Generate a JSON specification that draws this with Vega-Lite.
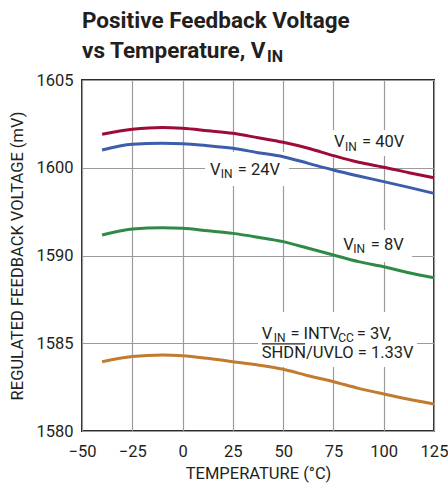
{
  "$schema": "https://vega.github.io/schema/vega-lite/v6.json",
  "width": 352,
  "height": 351,
  "autosize": {"type": "none"},
  "padding": {"left": 82, "top": 80, "right": 14, "bottom": 55},
  "background": "white",
  "config": {
    "view": {"stroke": "#2b2b2b", "strokeWidth": 2},
    "font": "Roboto"
  },
  "datasets": {
    "curves": [
      {"series": "40V", "x": -40, "y": 1596.91}, {"series": "40V", "x": -25, "y": 1597.19}, {"series": "40V", "x": -10, "y": 1597.30}, {"series": "40V", "x": 0, "y": 1597.25}, {"series": "40V", "x": 12.5, "y": 1597.11}, {"series": "40V", "x": 25, "y": 1596.96}, {"series": "40V", "x": 37.5, "y": 1596.71}, {"series": "40V", "x": 50, "y": 1596.45}, {"series": "40V", "x": 62.5, "y": 1596.11}, {"series": "40V", "x": 75, "y": 1595.69}, {"series": "40V", "x": 87.5, "y": 1595.31}, {"series": "40V", "x": 100, "y": 1595.03}, {"series": "40V", "x": 112.5, "y": 1594.72}, {"series": "40V", "x": 125, "y": 1594.43},
      {"series": "24V", "x": -40, "y": 1596.01}, {"series": "24V", "x": -25, "y": 1596.34}, {"series": "24V", "x": -10, "y": 1596.39}, {"series": "24V", "x": 0, "y": 1596.37}, {"series": "24V", "x": 12.5, "y": 1596.26}, {"series": "24V", "x": 25, "y": 1596.11}, {"series": "24V", "x": 37.5, "y": 1595.86}, {"series": "24V", "x": 50, "y": 1595.63}, {"series": "24V", "x": 62.5, "y": 1595.25}, {"series": "24V", "x": 75, "y": 1594.87}, {"series": "24V", "x": 87.5, "y": 1594.53}, {"series": "24V", "x": 100, "y": 1594.21}, {"series": "24V", "x": 112.5, "y": 1593.88}, {"series": "24V", "x": 125, "y": 1593.54},
      {"series": "8V", "x": -40, "y": 1591.17}, {"series": "8V", "x": -25, "y": 1591.51}, {"series": "8V", "x": -10, "y": 1591.58}, {"series": "8V", "x": 0, "y": 1591.55}, {"series": "8V", "x": 12.5, "y": 1591.41}, {"series": "8V", "x": 25, "y": 1591.26}, {"series": "8V", "x": 37.5, "y": 1591.04}, {"series": "8V", "x": 50, "y": 1590.79}, {"series": "8V", "x": 62.5, "y": 1590.41}, {"series": "8V", "x": 75, "y": 1590.03}, {"series": "8V", "x": 87.5, "y": 1589.65}, {"series": "8V", "x": 100, "y": 1589.36}, {"series": "8V", "x": 112.5, "y": 1589.02}, {"series": "8V", "x": 125, "y": 1588.73},
      {"series": "3V", "x": -40, "y": 1583.95}, {"series": "3V", "x": -25, "y": 1584.24}, {"series": "3V", "x": -10, "y": 1584.33}, {"series": "3V", "x": 0, "y": 1584.29}, {"series": "3V", "x": 12.5, "y": 1584.14}, {"series": "3V", "x": 25, "y": 1583.95}, {"series": "3V", "x": 37.5, "y": 1583.76}, {"series": "3V", "x": 50, "y": 1583.52}, {"series": "3V", "x": 62.5, "y": 1583.15}, {"series": "3V", "x": 75, "y": 1582.81}, {"series": "3V", "x": 87.5, "y": 1582.43}, {"series": "3V", "x": 100, "y": 1582.11}, {"series": "3V", "x": 112.5, "y": 1581.81}, {"series": "3V", "x": 125, "y": 1581.54}
    ],
    "boxes": [
      {"x": 72.3, "x2": 113.1, "y": 1597.15, "y2": 1595.67},
      {"x": 11.2, "x2": 52.9, "y": 1595.9, "y2": 1593.96},
      {"x": 76.8, "x2": 114.1, "y": 1591.45, "y2": 1589.63},
      {"x": 37.5, "x2": 116.6, "y": 1586.78, "y2": 1583.65}
    ],
    "bars": [
      {"x": 39.4, "x2": 60.9, "y": 1584.97}
    ],
    "labels": [
      {"part": "main", "text": "V", "x": 75.3, "y": 1596.2},
      {"part": "sub", "text": "IN", "x": 80.8, "y": 1595.98},
      {"part": "main", "text": "= 40V", "x": 89.2, "y": 1596.2},
      {"part": "main", "text": "V", "x": 13.65, "y": 1594.59},
      {"part": "sub", "text": "IN", "x": 18.97, "y": 1594.4},
      {"part": "main", "text": "= 24V", "x": 27.43, "y": 1594.59},
      {"part": "main", "text": "V", "x": 79.9, "y": 1590.31},
      {"part": "sub", "text": "IN", "x": 84.8, "y": 1590.13},
      {"part": "main", "text": "= 8V", "x": 93.6, "y": 1590.31},
      {"part": "main", "text": "V", "x": 39.36, "y": 1585.23},
      {"part": "sub", "text": "IN", "x": 45.3, "y": 1585.06},
      {"part": "main", "text": "= INTV", "x": 53.6, "y": 1585.23},
      {"part": "sub", "text": "CC", "x": 77.4, "y": 1585.06},
      {"part": "main", "text": "= 3V,", "x": 86.6, "y": 1585.23},
      {"part": "main", "text": "SHDN/UVLO = 1.33V", "x": 39.36, "y": 1584.14},
      {"part": "title", "text": "Positive Feedback Voltage", "x": -50, "y": 1602.99},
      {"part": "title", "text": "vs Temperature, V", "x": -50, "y": 1601.23},
      {"part": "titlesub", "text": "IN", "x": 42.0, "y": 1601.03}
    ]
  },
  "encoding": {
    "x": {
      "field": "x", "type": "quantitative",
      "scale": {"domain": [-50, 125], "nice": false, "zero": false},
      "axis": {
        "title": "TEMPERATURE (°C)",
        "values": [-50, -25, 0, 25, 50, 75, 100, 125],
        "grid": true, "gridColor": "#9b9b9b", "gridWidth": 1.2,
        "domain": false, "ticks": false,
        "labelFont": "Roboto", "labelFontSize": 16.5, "labelColor": "#231f20",
        "labelPadding": 12, "labelFlush": false, "labelOverlap": false, "labelBound": false,
        "titleFont": "Roboto", "titleFontSize": 16.5, "titleFontWeight": "normal", "titleColor": "#231f20",
        "titlePadding": 6
      }
    },
    "y": {
      "field": "y", "type": "quantitative",
      "scale": {"domain": [1580, 1600], "nice": false, "zero": false},
      "axis": {
        "title": "REGULATED FEEDBACK VOLTAGE (mV)",
        "values": [1580, 1585, 1590, 1595, 1600],
        "format": "d",
        "labelExpr": "datum.value == 1600 ? '1605' : datum.value == 1595 ? '1600' : datum.label",
        "grid": true, "gridColor": "#9b9b9b", "gridWidth": 1.2,
        "domain": false, "ticks": false,
        "labelFont": "Roboto", "labelFontSize": 16.5, "labelColor": "#231f20",
        "labelPadding": 9, "labelFlush": false, "labelOverlap": false, "labelBound": false,
        "titleFont": "Roboto", "titleFontSize": 16.5, "titleFontWeight": "normal", "titleColor": "#231f20",
        "titlePadding": 10
      }
    }
  },
  "layer": [
    {
      "data": {"name": "boxes"},
      "mark": {"type": "rect", "fill": "white", "stroke": null},
      "encoding": {"x2": {"field": "x2"}, "y2": {"field": "y2"}}
    },
    {
      "data": {"name": "curves"},
      "mark": {"type": "line", "interpolate": "monotone", "strokeWidth": 3},
      "encoding": {
        "color": {
          "field": "series", "type": "nominal",
          "scale": {"domain": ["40V", "24V", "8V", "3V"], "range": ["#9e0b38", "#3c5dab", "#2f8a48", "#c27a2e"]},
          "legend": null
        }
      }
    },
    {
      "data": {"name": "bars"},
      "mark": {"type": "rule", "color": "#231f20", "strokeWidth": 1.2},
      "encoding": {"x2": {"field": "x2"}}
    },
    {
      "data": {"name": "labels"},
      "transform": [{"filter": "datum.part == 'main'"}],
      "mark": {"type": "text", "align": "left", "baseline": "alphabetic", "font": "Roboto", "fontSize": 16.5, "color": "#231f20"},
      "encoding": {"text": {"field": "text"}}
    },
    {
      "data": {"name": "labels"},
      "transform": [{"filter": "datum.part == 'sub'"}],
      "mark": {"type": "text", "align": "left", "baseline": "alphabetic", "font": "Roboto", "fontSize": 12, "color": "#231f20"},
      "encoding": {"text": {"field": "text"}}
    },
    {
      "data": {"name": "labels"},
      "transform": [{"filter": "datum.part == 'title'"}],
      "mark": {"type": "text", "align": "left", "baseline": "alphabetic", "font": "Roboto", "fontWeight": "bold", "fontSize": 22.5, "color": "#231f20"},
      "encoding": {"text": {"field": "text"}}
    },
    {
      "data": {"name": "labels"},
      "transform": [{"filter": "datum.part == 'titlesub'"}],
      "mark": {"type": "text", "align": "left", "baseline": "alphabetic", "font": "Roboto", "fontWeight": "bold", "fontSize": 16, "color": "#231f20"},
      "encoding": {"text": {"field": "text"}}
    }
  ]
}
